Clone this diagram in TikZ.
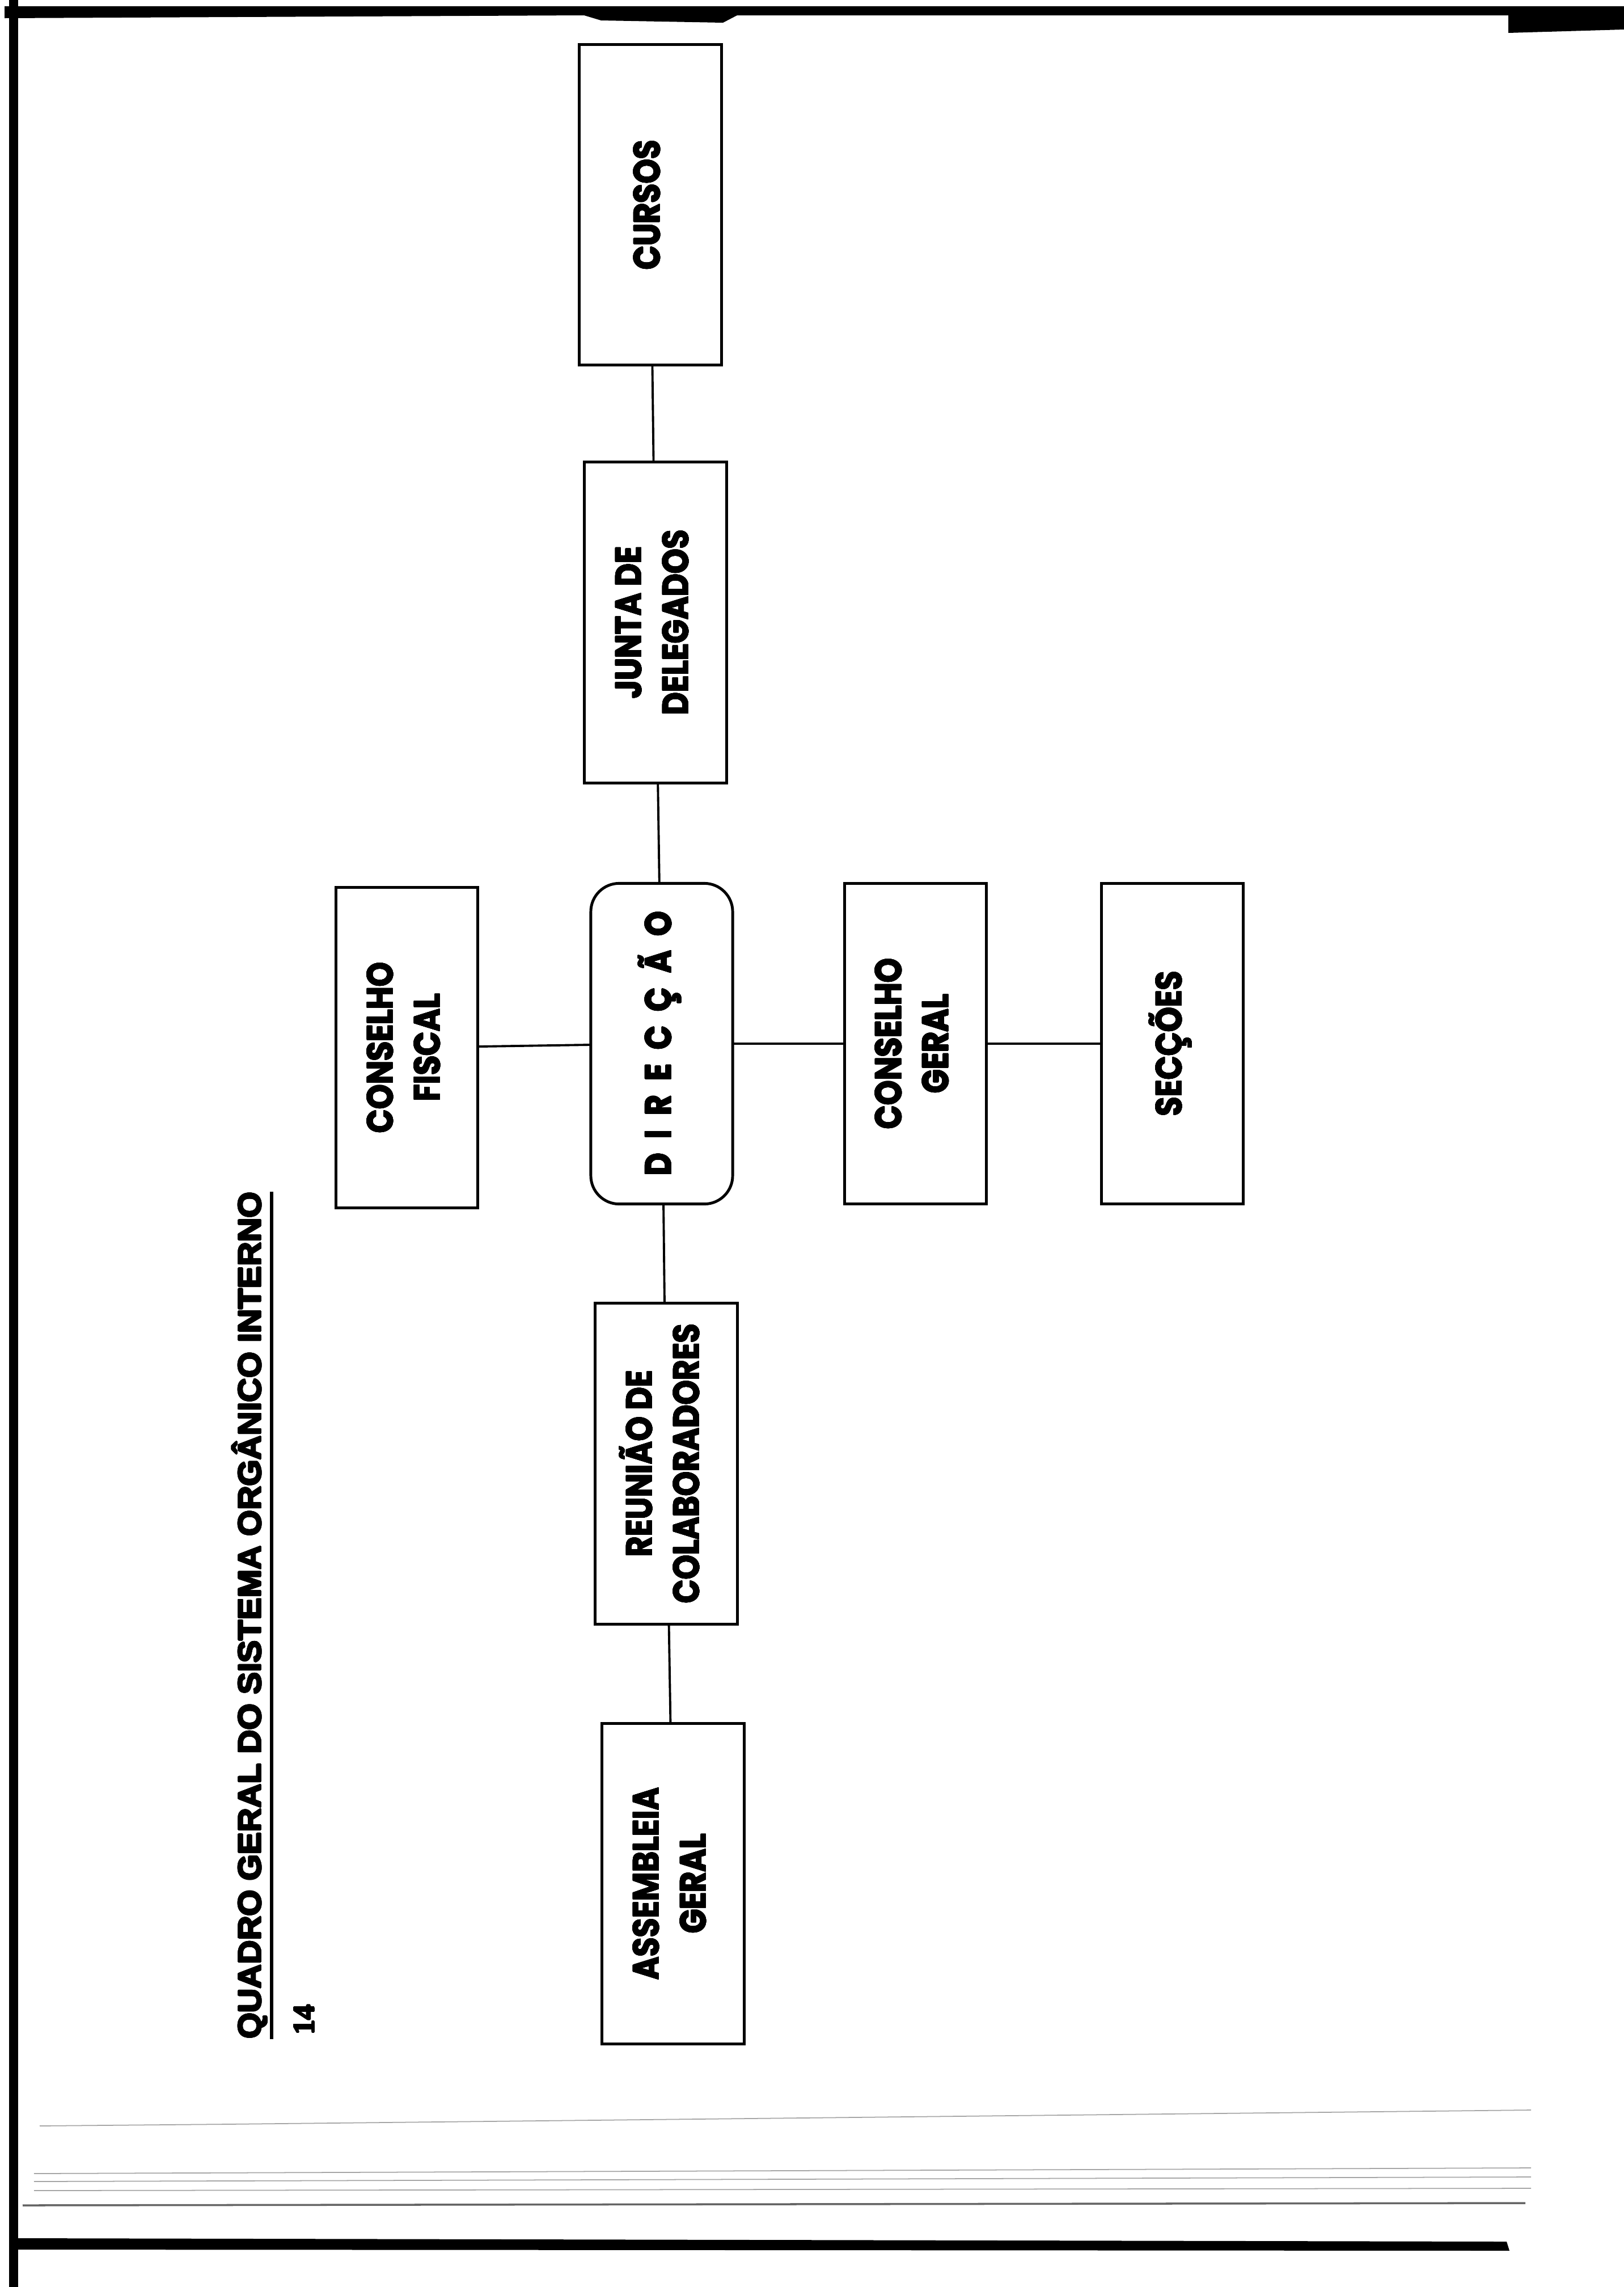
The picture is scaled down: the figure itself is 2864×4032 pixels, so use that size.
\documentclass[tikz,border=0pt]{standalone}
\usepackage{fontspec}
\setmainfont{Liberation Serif}
\newfontfamily\boxfont{Poppins Bold}[FakeStretch=0.86]
\newfontfamily\titlefont{Liberation Sans Bold}[FakeStretch=1.05]
\newfontfamily\numfont{Liberation Serif Bold}
\usepackage{graphicx}
\usepackage[copies]{contour}
\contourlength{0.35pt}
\usetikzlibrary{positioning}
\tikzset{
Box/.style={
	draw, line width=1.4pt,
	minimum width=2.5cm, minimum height=5.65cm,
	inner sep=0pt, outer sep=0pt,
	align=center,
	font=\boxfont\fontsize{18.3}{23.6}\selectfont
},
RoundBox/.style={
	Box,
	rounded corners=0.5cm
},
Edge/.style={
	draw=black,
	line width=1.1pt
},
Title/.style={
	rotate=90, anchor=base, inner sep=0pt,
	font=\titlefont\fontsize{16}{18}\selectfont
},
Underline/.style={
	draw=black,
	line width=1.6pt
},
PageNum/.style={
	rotate=90, inner sep=0pt,
	font=\numfont\fontsize{15}{15}\selectfont
},
Border/.style={
	fill=black
},
Trace/.style={
	draw=black!35,
	line width=0.5pt
}
}
\newcommand{\vtext}[1]{\rotatebox{90}{\begin{tabular}{@{}c@{}}#1\end{tabular}}}
\newcommand{\ctext}[1]{{\contourlength{0.2pt}\contour{black}{#1}}}
\newcommand{\lgap}{\hspace{0.25cm}}

\begin{document}
\begin{tikzpicture}[x=0.01cm, y=-0.01cm]
	\useasboundingbox (0,0) rectangle (2864,4032);

	% page edges of the scan
	\fill[Border] (8,11) -- (2864,11) -- (2864,52) -- (2660,58) -- (2660,27) -- (1300,27) -- (1275,40) -- (1060,36) -- (1030,27) -- (8,32) -- cycle;
	\fill[Border] (16,0) rectangle (32,4032);
	\fill[Border] (32,3946) -- (2657,3952) -- (2662,3968) -- (32,3966) -- cycle;
	\draw[Trace] (70,3748) -- (400,3745) -- (2700,3720);
	\draw[Trace] (60,3832) -- (2700,3822);
	\draw[Trace] (60,3846) -- (2700,3838);
	\draw[Trace] (60,3862) -- (2700,3858);
	\draw[Trace, draw=black!60, line width=1pt] (40,3888) -- (2690,3884);

	\node[Title] (titulo) at (460,2848) {\contour{black}{QUADRO GERAL DO SISTEMA ORGÂNICO INTERNO}};
	\draw[Underline] ([xshift=0.19cm]titulo.base west) -- ([xshift=0.19cm]titulo.base east);

	\node[RoundBox] (direccao) at (1167,1840) {\vtext{\ctext{D\lgap I\lgap R\lgap E\lgap C\lgap Ç\lgap Ã\lgap O}}};
	\node[Box, above=1.77cm of direccao, xshift=-0.11cm] (junta) {\vtext{\ctext{JUNTA DE}\\\ctext{DELEGADOS}}};
	\node[Box, above=1.71cm of junta, xshift=-0.09cm] (cursos) {\vtext{\ctext{CURSOS}}};
	\node[Box, below=1.75cm of direccao, xshift=0.08cm] (reuniao) {\vtext{\ctext{REUNIÃO DE}\\\ctext{COLABORADORES}}};
	\node[Box, below=1.75cm of reuniao, xshift=0.12cm] (assembleia) {\vtext{\ctext{ASSEMBLEIA}\\\ctext{GERAL}}};
	\node[Box, left=1.99cm of direccao, yshift=-0.07cm] (fiscal) {\vtext{\ctext{CONSELHO}\\\ctext{FISCAL}}};
	\node[Box, right=1.97cm of direccao] (cgeral) {\vtext{\ctext{CONSELHO}\\\ctext{GERAL}}};
	\node[Box, right=2.03cm of cgeral] (seccoes) {\vtext{\ctext{SECÇÕES}}};

	\draw[Edge] (cursos) -- (junta);
	\draw[Edge] (junta) -- (direccao);
	\draw[Edge] (direccao) -- (reuniao);
	\draw[Edge] (reuniao) -- (assembleia);
	\draw[Edge] (fiscal) -- (direccao);
	\draw[Edge] (direccao) -- (cgeral);
	\draw[Edge] (cgeral) -- (seccoes);

	\node[PageNum] (pagina) at (537,3561) {\contour{black}{14}};
\end{tikzpicture}
\end{document}
